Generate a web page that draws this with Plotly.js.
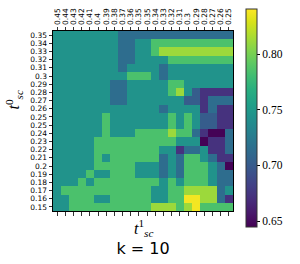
<!DOCTYPE html>
<html>
<head>
<meta charset="utf-8">
<script src="https://cdn.plot.ly/plotly-3.0.1.min.js"></script>
<style>html,body{margin:0;padding:0;background:#fff;}#chart{width:300px;height:264px;}</style>
</head>
<body>
<div id="chart"></div>
<script>
const xLabels = ["0.45","0.44","0.43","0.42","0.41","0.4","0.39","0.38","0.37","0.36","0.35","0.35","0.34","0.33","0.32","0.31","0.3","0.29","0.28","0.27","0.26","0.25"];
const yLabels = ["0.35","0.34","0.33","0.32","0.31","0.3","0.29","0.28","0.27","0.26","0.25","0.25","0.24","0.23","0.22","0.21","0.2","0.19","0.18","0.17","0.16","0.15"];
const colorbarTicks = [0.65, 0.70, 0.75, 0.80];
// rows from top (t0 = 0.35) to bottom (t0 = 0.15)
const scores = [
[0.745,0.745,0.745,0.745,0.745,0.745,0.745,0.745,0.715,0.715,0.715,0.715,0.715,0.715,0.715,0.715,0.715,0.715,0.715,0.715,0.715,0.715],
[0.745,0.745,0.745,0.745,0.745,0.745,0.745,0.745,0.715,0.715,0.745,0.745,0.785,0.785,0.785,0.785,0.785,0.785,0.785,0.785,0.785,0.785],
[0.745,0.745,0.745,0.745,0.745,0.745,0.745,0.745,0.715,0.715,0.745,0.745,0.785,0.812,0.812,0.812,0.812,0.812,0.812,0.812,0.812,0.812],
[0.745,0.745,0.745,0.745,0.745,0.745,0.745,0.745,0.715,0.715,0.745,0.745,0.745,0.745,0.785,0.785,0.785,0.785,0.785,0.785,0.785,0.785],
[0.745,0.745,0.745,0.745,0.745,0.745,0.745,0.745,0.715,0.745,0.745,0.745,0.745,0.715,0.745,0.745,0.745,0.745,0.745,0.745,0.745,0.745],
[0.745,0.745,0.745,0.745,0.745,0.745,0.745,0.745,0.745,0.785,0.785,0.785,0.745,0.715,0.745,0.745,0.745,0.745,0.745,0.745,0.745,0.745],
[0.745,0.745,0.745,0.745,0.745,0.745,0.745,0.715,0.715,0.745,0.745,0.745,0.745,0.745,0.785,0.785,0.745,0.745,0.745,0.745,0.745,0.745],
[0.745,0.745,0.745,0.745,0.745,0.745,0.745,0.715,0.715,0.745,0.745,0.745,0.745,0.745,0.785,0.812,0.745,0.702,0.673,0.673,0.673,0.673],
[0.745,0.745,0.745,0.745,0.745,0.745,0.745,0.715,0.715,0.745,0.745,0.745,0.745,0.745,0.745,0.745,0.702,0.702,0.673,0.715,0.715,0.715],
[0.745,0.745,0.745,0.745,0.745,0.745,0.745,0.745,0.745,0.745,0.745,0.745,0.745,0.715,0.745,0.745,0.745,0.745,0.673,0.715,0.673,0.673],
[0.745,0.745,0.745,0.745,0.745,0.745,0.785,0.745,0.745,0.745,0.745,0.745,0.745,0.745,0.785,0.745,0.785,0.745,0.702,0.702,0.673,0.673],
[0.745,0.745,0.745,0.745,0.745,0.745,0.785,0.745,0.745,0.745,0.745,0.745,0.745,0.745,0.785,0.745,0.785,0.745,0.702,0.702,0.673,0.673],
[0.745,0.745,0.745,0.745,0.745,0.745,0.785,0.745,0.745,0.745,0.785,0.785,0.785,0.785,0.812,0.785,0.785,0.715,0.673,0.646,0.646,0.715],
[0.745,0.745,0.745,0.745,0.745,0.785,0.785,0.785,0.785,0.785,0.785,0.785,0.785,0.785,0.785,0.745,0.745,0.745,0.646,0.673,0.673,0.715],
[0.745,0.745,0.745,0.745,0.745,0.785,0.785,0.785,0.785,0.785,0.785,0.785,0.785,0.745,0.745,0.673,0.715,0.715,0.745,0.673,0.673,0.715],
[0.745,0.745,0.745,0.745,0.745,0.785,0.745,0.785,0.785,0.785,0.785,0.785,0.785,0.715,0.745,0.715,0.785,0.785,0.745,0.715,0.673,0.673],
[0.745,0.745,0.745,0.745,0.745,0.785,0.785,0.785,0.785,0.785,0.745,0.745,0.745,0.715,0.745,0.715,0.785,0.785,0.785,0.745,0.715,0.646],
[0.745,0.745,0.745,0.745,0.785,0.745,0.745,0.785,0.785,0.785,0.745,0.745,0.745,0.715,0.745,0.715,0.785,0.785,0.785,0.745,0.715,0.715],
[0.745,0.745,0.745,0.785,0.745,0.785,0.785,0.785,0.785,0.785,0.785,0.785,0.785,0.745,0.785,0.745,0.785,0.785,0.785,0.745,0.715,0.715],
[0.745,0.785,0.785,0.785,0.785,0.785,0.785,0.785,0.785,0.785,0.785,0.785,0.745,0.745,0.785,0.785,0.812,0.812,0.812,0.812,0.715,0.745],
[0.745,0.745,0.785,0.785,0.785,0.745,0.745,0.785,0.785,0.785,0.785,0.785,0.745,0.745,0.785,0.785,0.838,0.838,0.812,0.812,0.715,0.673],
[0.745,0.745,0.785,0.785,0.785,0.785,0.785,0.785,0.785,0.785,0.785,0.785,0.812,0.812,0.812,0.785,0.812,0.838,0.785,0.785,0.785,0.785]
];

const idxX = xLabels.map((_, i) => i);
const idxY = yLabels.map((_, i) => i);

const trace = {
  type: 'heatmap',
  z: scores,
  x: idxX,
  y: idxY,
  colorscale: 'Viridis',
  zmin: 0.645,
  zmax: 0.841,
  showscale: true,
  hoverinfo: 'skip',
  colorbar: {
    thickness: 10.5,
    thicknessmode: 'pixels',
    len: 218,
    lenmode: 'pixels',
    x: 1.072,
    xanchor: 'left',
    xpad: 0,
    y: 0.519,
    yanchor: 'middle',
    ypad: 0,
    outlinecolor: '#333',
    outlinewidth: 1,
    ticks: 'outside',
    ticklen: 3,
    tickcolor: '#000',
    tickvals: colorbarTicks,
    ticktext: colorbarTicks.map(v => v.toFixed(2)),
    tickfont: {family: 'Liberation Serif', size: 11.5, color: '#000'}
  }
};

const layout = {
  width: 300,
  height: 264,
  margin: {l: 53, r: 67, t: 31, b: 53, pad: 0},
  paper_bgcolor: '#fff',
  plot_bgcolor: '#fff',
  font: {family: 'DejaVu Sans', color: '#000'},
  title: {
    text: 'k = 10',
    font: {family: 'DejaVu Sans', size: 16, color: '#000'},
    xref: 'paper', x: 0.5, xanchor: 'center',
    yref: 'container', y: 0.06, yanchor: 'middle'
  },
  xaxis: {
    side: 'top',
    range: [-0.5, 21.5],
    tickvals: idxX,
    ticktext: xLabels,
    tickangle: -90,
    tickfont: {family: 'DejaVu Sans', size: 7.5, color: '#000'},
    ticks: 'outside', ticklen: 3.5, tickcolor: '#000', tickwidth: 0.8,
    showline: true, linecolor: '#000', linewidth: 1, mirror: 'ticks',
    showgrid: false, zeroline: false, fixedrange: true
  },
  yaxis: {
    range: [21.5, -0.5],
    tickvals: idxY,
    ticktext: yLabels,
    tickfont: {family: 'DejaVu Sans', size: 7.5, color: '#000'},
    ticks: 'outside', ticklen: 3.5, tickcolor: '#000', tickwidth: 0.8,
    showline: true, linecolor: '#000', linewidth: 1, mirror: true,
    showgrid: false, zeroline: false, fixedrange: true
  },
  annotations: [
    {
      text: '<i>t</i><sup>1</sup><sub><i>sc</i></sub>',
      xref: 'paper', yref: 'paper', x: 0.5, y: -0.094,
      xanchor: 'center', yanchor: 'middle', showarrow: false,
      font: {family: 'Liberation Serif', size: 16, color: '#000'}
    },
    {
      text: '<i>t</i><sup>0</sup><sub><i>sc</i></sub>',
      xref: 'paper', yref: 'paper', x: -0.219, y: 0.617,
      xanchor: 'center', yanchor: 'middle', showarrow: false, textangle: -90,
      font: {family: 'Liberation Serif', size: 16, color: '#000'}
    }
  ]
};

Plotly.newPlot('chart', [trace], layout, {displayModeBar: false, staticPlot: true});
</script>
</body>
</html>
